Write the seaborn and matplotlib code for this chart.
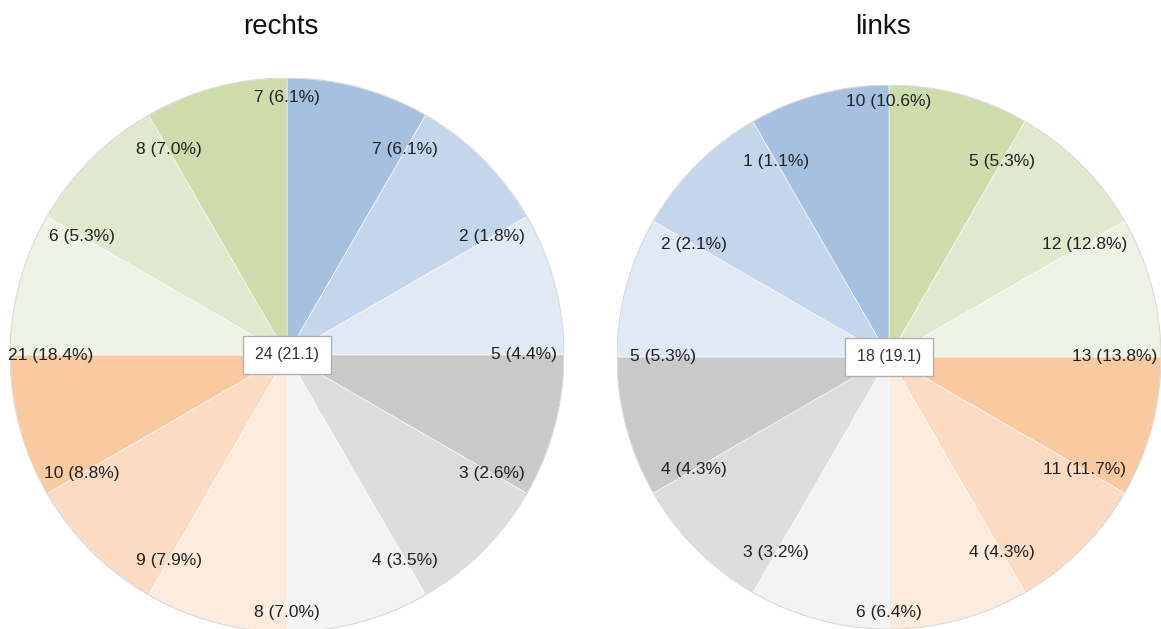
import numpy as np
import matplotlib
matplotlib.use('Agg')
import matplotlib.pyplot as plt
import seaborn as sns

# Data (slices listed clockwise, starting at 12 o'clock)
titles = ['rechts', 'links']

rechts_counts = [7, 2, 5, 3, 4, 8, 9, 10, 21, 6, 8, 7]
rechts_pcts = [6.1, 1.8, 4.4, 2.6, 3.5, 7.0, 7.9, 8.8, 18.4, 5.3, 7.0, 6.1]
rechts_center = '24 (21.1)'

links_counts = [5, 12, 13, 11, 4, 6, 3, 4, 5, 2, 1, 10]
links_pcts = [5.3, 12.8, 13.8, 11.7, 4.3, 6.4, 3.2, 4.3, 5.3, 2.1, 1.1, 10.6]
links_center = '18 (19.1)'

# every sector has the same angle in the original
slice_weights = [1] * 12

# colour groups: dark / medium / light
blues = ['#a6c0df', '#c4d6ec', '#e1e9f5']
grays = ['#c9c9c9', '#dddddd', '#f3f3f3']
oranges = ['#f9c9a0', '#fbdcc3', '#fdebdd']
greens = ['#cedcab', '#e0e8ce', '#eef2e5']

rechts_colors = blues + grays + oranges[::-1] + greens[::-1]
links_colors = greens + oranges + grays[::-1] + blues[::-1]

sns.set_theme(style='white')
plt.rcParams['font.family'] = ['Liberation Sans', 'DejaVu Sans']

W, H = 1161, 629
fig = plt.figure(figsize=(W / 100, H / 100), dpi=100)

# pie centre (px), radius (px), label radius (fraction of R), extra at top/bottom
layout = [(287, 355, 277, 0.855, 0.075), (889, 357, 272, 0.83, 0.11)]
charts = [
    (rechts_counts, rechts_pcts, rechts_center, rechts_colors),
    (links_counts, links_pcts, links_center, links_colors),
]

for (cx, cy, R, r_lab, r_tb), title, (counts, pcts, center_txt, colors) in zip(layout, titles, charts):
    ax = fig.add_axes([(cx - R) / W, (H - cy - R) / H, 2 * R / W, 2 * R / H])
    ax.pie(slice_weights, colors=colors, startangle=90, counterclock=False,
           radius=1, wedgeprops=dict(edgecolor='white', linewidth=0.4))
    ax.add_patch(plt.Circle((0, 0), 1, fill=False, ec='#d9d9d9', lw=0.8))

    # each label sits on the clockwise end of its sector
    n = len(counts)
    for i, (c, p) in enumerate(zip(counts, pcts)):
        ang = np.deg2rad(90 - 360 / n * (i + 1))
        r = r_lab + (r_tb if abs(np.sin(ang)) > 0.99 else 0)
        ax.text(r * np.cos(ang), r * np.sin(ang), f'{c} ({p:.1f}%)',
                ha='center', va='center', fontsize=12.5, color='#222222')

    ax.text(0, 0.0, center_txt, ha='center', va='center', fontsize=11.5,
            color='#333333',
            bbox=dict(boxstyle='square,pad=0.75', fc='white', ec='#b0b0b0', lw=1))

    ax.set_xlim(-1, 1)
    ax.set_ylim(-1, 1)
    ax.set_aspect('equal')
    ax.axis('off')

    # titles share one baseline above both pies
    fig.text((cx - 6) / W, 1 - 34 / H, title, ha='center', va='baseline',
             fontsize=20, color='#111111')

fig.savefig('out.png', dpi=100)
